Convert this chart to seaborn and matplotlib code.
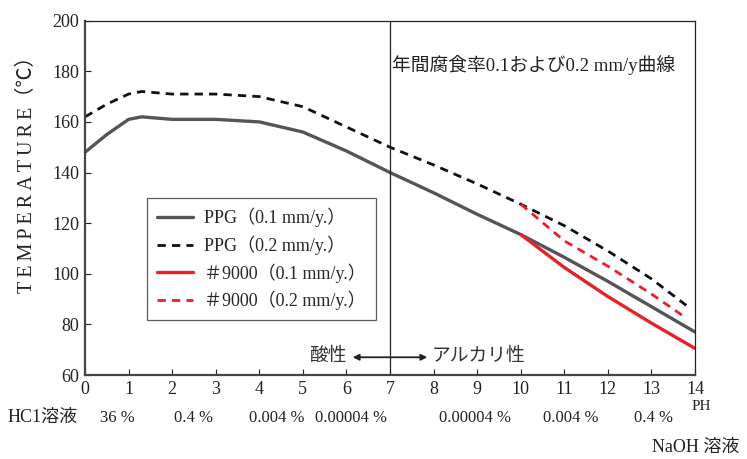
import numpy as np
import pandas as pd
import matplotlib
matplotlib.use("Agg")
import matplotlib.pyplot as plt
import seaborn as sns

# Data
ppg01_ph = [0, 0.5, 1, 1.3, 2, 3, 4, 5, 6, 7, 8, 9, 10, 11, 12, 13, 14]
ppg01_t = [148, 155, 161, 162, 161, 161, 160, 156, 148.5, 140, 132, 123.5, 115.5, 106.5, 97, 87, 77]
ppg02_ph = [0, 0.5, 1, 1.3, 2, 3, 4, 5, 6, 7, 8, 9, 10, 11, 12, 13, 13.8]
ppg02_t = [162, 167, 171, 172, 171, 171, 170, 166, 158, 150, 143, 135.5, 127.5, 119, 109, 98, 87.5]
n9000_01_ph = [10, 11, 12, 13, 14]
n9000_01_t = [115.5, 102.5, 91, 80.5, 70.5]
n9000_02_ph = [10, 11, 12, 13, 13.8]
n9000_02_t = [127.5, 113, 103, 92, 82.5]

labels = ["PPG（0.1 mm/y.）", "PPG（0.2 mm/y.）", "＃9000（0.1 mm/y.）", "＃9000（0.2 mm/y.）"]
hcl_pos = [0.75, 2.5, 4.4, 6.1]
hcl_txt = ["36 %", "0.4 %", "0.004 %", "0.00004 %"]
naoh_pos = [8.95, 11.15, 13.05]
naoh_txt = ["0.00004 %", "0.004 %", "0.4 %"]

sns.set_style("ticks")
plt.rcParams['font.family'] = ['Liberation Serif', 'Noto Sans CJK JP']

fig = plt.figure(figsize=(7.47, 4.59), dpi=100)
ax = fig.add_axes([0.1138, 0.183, 0.8166, 0.772])

dash = (0, (3, 2.2))
sns.lineplot(x=ppg01_ph, y=ppg01_t, ax=ax, color="#555555", lw=2.4, label=labels[0])
sns.lineplot(x=ppg02_ph, y=ppg02_t, ax=ax, color="#111111", lw=2.0, linestyle=dash, label=labels[1])
sns.lineplot(x=n9000_01_ph, y=n9000_01_t, ax=ax, color="#e8202a", lw=2.4, label=labels[2])
sns.lineplot(x=n9000_02_ph, y=n9000_02_t, ax=ax, color="#e8202a", lw=2.0, linestyle=dash, label=labels[3])

ax.set_xlim(0, 14)
ax.set_ylim(60, 200)
ax.set_xticks(range(0, 15))
ax.set_yticks(range(60, 201, 20))
ax.tick_params(direction="in", labelsize=13, length=4, colors="#222222", pad=4)
for s in ["left", "bottom"]:
    ax.spines[s].set_linewidth(1.6)
    ax.spines[s].set_color("#444444")
for s in ["top", "right"]:
    ax.spines[s].set_linewidth(0.9)
    ax.spines[s].set_color("#222222")
ax.set_xlabel("")
ylab = ax.set_ylabel("T\u2009E\u2009M\u2009P\u2009E\u2009R\u2009A\u2009T\u2009U\u2009R\u2009E（℃）",
                     fontsize=14.5, color="#222222")
ylab.set_va("center")
ax.yaxis.set_label_coords(-0.095, 0.579)

ax.axvline(7, color="#222222", lw=0.9)
ax.text(7.05, 182.5, "年間腐食率0.1および0.2 mm/y曲線", fontsize=13.5, va="center", ha="left", color="#222222")

# acid / alkaline arrow
ax.annotate("", xy=(6.08, 67), xytext=(7.92, 67),
            arrowprops=dict(arrowstyle="<|-|>", color="#222222", lw=1.3, mutation_scale=9))
ax.text(6.02, 67.5, "酸性", fontsize=13.5, ha="right", va="center", color="#333333")
ax.text(7.95, 67.5, "アルカリ性", fontsize=13.5, ha="left", va="center", color="#333333")

xt = ax.get_xaxis_transform()
ax.text(-1.77, -0.121, "HC1溶液", transform=xt, fontsize=13, ha="left", va="center", color="#222222")
for p, t in zip(hcl_pos, hcl_txt):
    ax.text(p, -0.121, t, transform=xt, fontsize=12, ha="center", va="center", color="#222222")
for p, t in zip(naoh_pos, naoh_txt):
    ax.text(p, -0.121, t, transform=xt, fontsize=12, ha="center", va="center", color="#222222")
ax.text(14.14, -0.09, "PH", transform=xt, fontsize=11, ha="center", va="center", color="#222222")
ax.text(15.02, -0.205, "NaOH 溶液", transform=xt, fontsize=13, ha="right", va="center", color="#222222", clip_on=False)

leg = ax.legend(loc="lower left", bbox_to_anchor=(0.102, 0.155), fontsize=13,
                frameon=True, fancybox=False, edgecolor="#333333", handlelength=2.0,
                labelspacing=0.45, borderpad=0.55, handletextpad=0.6, borderaxespad=0)
leg.get_frame().set_linewidth(0.9)

fig.savefig("out.png", dpi=100)
